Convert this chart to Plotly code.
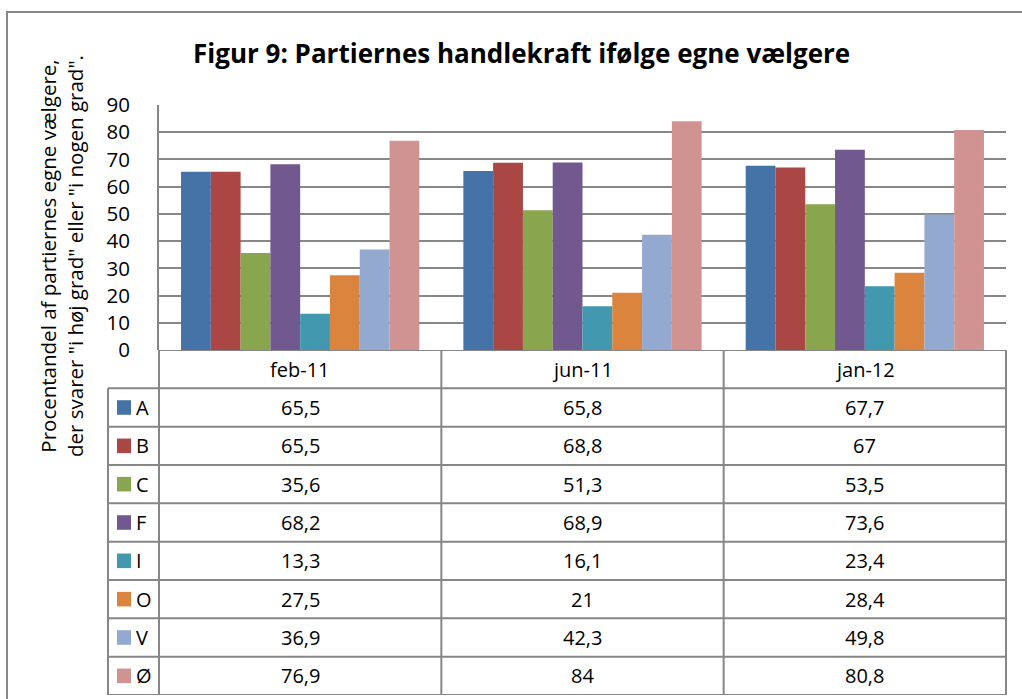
import plotly.graph_objects as go

categories = ["feb-11", "jun-11", "jan-12"]
series_names = ["A", "B", "C", "F", "I", "O", "V", "Ø"]
series_colors = ["#4572A7", "#AA4643", "#89A54E", "#71588F", "#4198AF", "#DB843D", "#93A9CF", "#D19392"]
A = [65.5, 65.8, 67.7]
B = [65.5, 68.8, 67.0]
C = [35.6, 51.3, 53.5]
F = [68.2, 68.9, 73.6]
I = [13.3, 16.1, 23.4]
O = [27.5, 21.0, 28.4]
V = [36.9, 42.3, 49.8]
OE = [76.9, 84.0, 80.8]
series_values = [A, B, C, F, I, O, V, OE]
y_ticks = [0, 10, 20, 30, 40, 50, 60, 70, 80, 90]

W, H = 1022, 699
FONT = "Open Sans"
GRAY = "#878787"

def px(x):
    return x / W

def py(y):
    return 1 - y / H

plot_left, plot_right, plot_top, plot_bottom = 159, 1006, 105, 350
table_bottom, label_left = 695, 108

fig = go.Figure()
for name, vals, col in zip(series_names, series_values, series_colors):
    fig.add_trace(go.Bar(x=categories, y=vals, name=name, marker=dict(color=col, line=dict(width=0)),
                         showlegend=False))

fig.update_layout(
    width=W, height=H, margin=dict(l=0, r=0, t=0, b=0, pad=0, autoexpand=False),
    paper_bgcolor="white", plot_bgcolor="white",
    barmode="group", bargap=0.156, bargroupgap=0,
    font=dict(family=FONT, color="black"),
    xaxis=dict(domain=[px(plot_left), px(plot_right)], showticklabels=False, showgrid=False,
               showline=False, zeroline=False, fixedrange=True, anchor="y", automargin=False),
    yaxis=dict(domain=[py(plot_bottom), py(plot_top)], range=[0, 90], tickvals=y_ticks,
               showgrid=True, gridcolor=GRAY, gridwidth=1.5, zeroline=False,
               showline=True, linecolor=GRAY, linewidth=2, ticks="", ticklabelstandoff=23,
               tickfont=dict(size=20.5, family=FONT), anchor="x", automargin=False),
    yaxis2=dict(domain=[py(table_bottom), py(plot_bottom)], range=[8, -1], visible=False,
                anchor="x", fixedrange=True, automargin=False),
)

shapes = []
line = dict(color=GRAY, width=2)
shapes.append(dict(type="line", xref="paper", yref="y2", x0=px(plot_left), x1=px(plot_right), y0=-1, y1=-1, line=line))
for r in range(0, 9):
    shapes.append(dict(type="line", xref="paper", yref="y2", x0=px(label_left), x1=px(plot_right), y0=r, y1=r, line=line))
shapes.append(dict(type="line", xref="paper", yref="y2", x0=px(label_left), x1=px(label_left), y0=0, y1=8, line=line))
shapes.append(dict(type="line", xref="paper", yref="y2", x0=px(plot_left), x1=px(plot_left), y0=-1, y1=8, line=line))
for k in range(1, len(categories) + 1):
    xb = px(plot_left + (plot_right - plot_left) * k / len(categories))
    shapes.append(dict(type="line", xref="paper", yref="y2", x0=xb, x1=xb, y0=-1, y1=8, line=line))
for i, col in enumerate(series_colors):
    shapes.append(dict(type="rect", xref="paper", yref="y2", x0=px(117), x1=px(131),
                       y0=i + 0.5 - 0.19, y1=i + 0.5 + 0.19, fillcolor=col, line=dict(width=0)))
shapes.append(dict(type="rect", xref="paper", yref="paper", x0=px(7), x1=px(1040), y0=py(720), y1=py(12),
                    line=dict(color=GRAY, width=2), fillcolor="rgba(0,0,0,0)", layer="below"))
fig.update_layout(shapes=shapes)

ann = []
ann.append(dict(text="<b>Figur 9: Partiernes handlekraft ifølge egne vælgere</b>", xref="paper", yref="paper",
                x=px(521), y=py(53), showarrow=False, font=dict(size=26, family=FONT), xanchor="center", yanchor="middle"))
ann.append(dict(text="Procentandel af partiernes egne vælgere,<br>der svarer \"i høj grad\" eller \"i nogen grad\".",
                xref="paper", yref="paper", x=px(61), y=py(256), textangle=-90, showarrow=False,
                font=dict(size=20.5, family=FONT), xanchor="center", yanchor="middle"))
for c in categories:
    ann.append(dict(text=c, xref="x", yref="y2", x=c, y=-0.5, showarrow=False, font=dict(size=20, family=FONT)))
for i, (name, vals) in enumerate(zip(series_names, series_values)):
    ann.append(dict(text=name, xref="paper", yref="y2", x=px(134), y=i + 0.5, xanchor="left", showarrow=False,
                    font=dict(size=20, family=FONT)))
    for c, v in zip(categories, vals):
        ann.append(dict(text=f"{v:g}".replace(".", ","), xref="x", yref="y2", x=c, y=i + 0.5,
                        showarrow=False, font=dict(size=20, family=FONT)))
fig.update_layout(annotations=ann)

fig.write_html("out.html", config={"displayModeBar": False},
               post_script="document.body.style.margin='0';")
